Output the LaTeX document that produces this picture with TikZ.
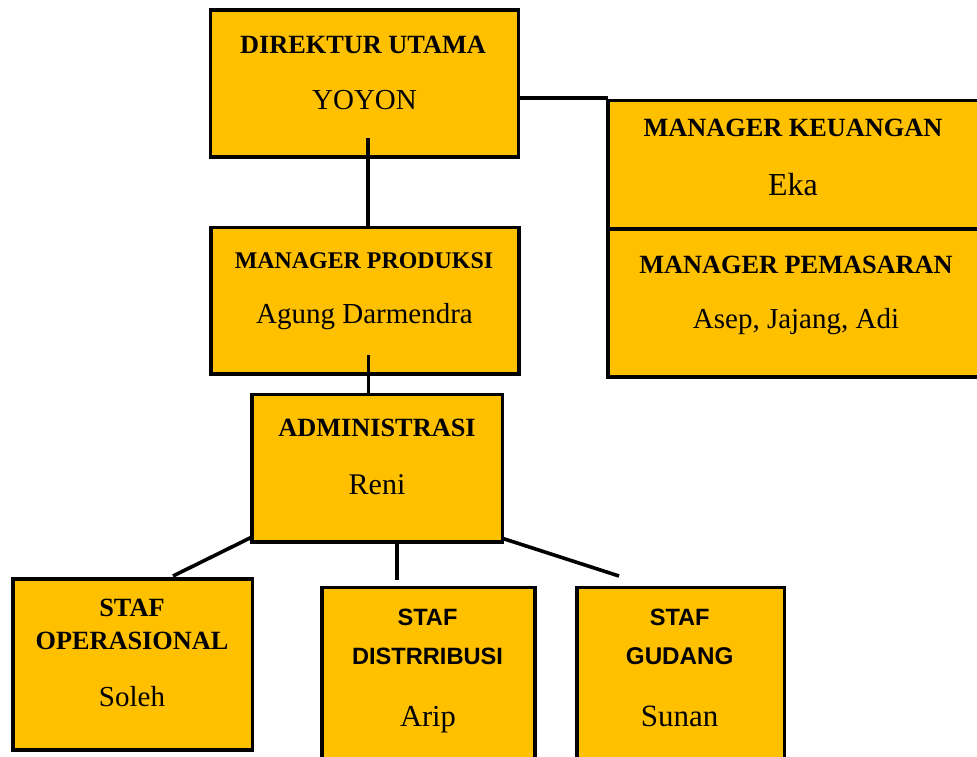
\documentclass[tikz,border=0pt]{standalone}
\usepackage{fontspec}
\setmainfont{Liberation Serif}
\newfontfamily\arialfont{Liberation Sans}
\definecolor{boxgold}{HTML}{FFC000}
\tikzset{
  orgbox/.style={draw=black, fill=boxgold, line width=3.6pt},
  conn/.style={draw=black, line width=3.6pt},
  ttl/.style={anchor=base, inner sep=0pt, font=\fontsize{26.3}{30}\selectfont\bfseries},
  ttlsans/.style={anchor=base, inner sep=0pt, font=\fontsize{23.6}{28}\arialfont\bfseries},
  nm/.style={anchor=base, inner sep=0pt, font=\fontsize{29}{33}\selectfont},
}
\begin{document}
\begin{tikzpicture}[x=1pt, y=-1pt]
\useasboundingbox (0,0) rectangle (977,756);
\clip (0,0) rectangle (977,756);
\fill[white] (0,0) rectangle (977,756);

% boxes
\path[orgbox] (210.5,10) rectangle (518.3,157);
\node[inner sep=0pt, minimum width=307.8pt, minimum height=147pt] (dir) at (364.4,83.5) {};
\path[orgbox] (210.7,227.5) rectangle (519,374);
\node[inner sep=0pt, minimum width=308.3pt, minimum height=146.5pt] (prod) at (364.85,300.75) {};
\path[orgbox] (251.7,394.3) rectangle (502.3,541.7);
\node[inner sep=0pt, minimum width=250.6pt, minimum height=147.4pt] (adm) at (377,468) {};
\path[orgbox] (608,100.5) rectangle (981,229);
\node[inner sep=0pt, minimum width=373pt, minimum height=128.5pt] (keu) at (794.5,164.75) {};
\path[orgbox] (608,229) rectangle (981,377);
\node[inner sep=0pt, minimum width=373pt, minimum height=148pt] (pem) at (794.5,303) {};
\path[orgbox] (13,579) rectangle (252.3,750);
\node[inner sep=0pt, minimum width=239.3pt, minimum height=171pt] (op) at (132.65,664.5) {};
\path[orgbox] (322,587.3) rectangle (535,765);
\node[inner sep=0pt, minimum width=213pt, minimum height=177.7pt] (dis) at (428.5,676.15) {};
\path[orgbox] (577,587.3) rectangle (784.5,765);
\node[inner sep=0pt, minimum width=207.5pt, minimum height=177.7pt] (gud) at (680.75,676.15) {};

% texts
\node[ttl] (t1) at (363,53) {DIREKTUR UTAMA};
\node[nm]  (n1) at (364.5,109.5) {YOYON};
\node[ttl, font=\fontsize{23.9}{28}\selectfont\bfseries] (t2) at (364,268.7) {MANAGER PRODUKSI};
\node[nm]  (n2) at (364.5,323.5) {Agung Darmendra};
\node[ttl] (t3) at (377,436) {ADMINISTRASI};
\node[nm, font=\fontsize{30}{34}\selectfont]  (n3) at (377,494) {Reni};
\node[ttl] (t4) at (793,136) {MANAGER KEUANGAN};
\node[nm, font=\fontsize{32}{36}\selectfont]  (n4) at (793,195) {Eka};
\node[ttl] (t5) at (796,273) {MANAGER PEMASARAN};
\node[nm]  (n5) at (796,328.5) {Asep, Jajang, Adi};
\node[ttl] (t6a) at (132,616.7) {STAF};
\node[ttl] (t6b) at (132,649) {OPERASIONAL};
\node[nm]  (n6) at (132,706.7) {Soleh};
\node[ttlsans] (t7a) at (427.5,625) {STAF};
\node[ttlsans] (t7b) at (427.5,664) {DISTRRIBUSI};
\node[nm, font=\fontsize{30.5}{34}\selectfont]  (n7) at (428,726) {Arip};
\node[ttlsans] (t8a) at (679.7,625) {STAF};
\node[ttlsans, font=\fontsize{24.2}{28}\arialfont\bfseries] (t8b) at (679.7,664) {GUDANG};
\node[nm, font=\fontsize{31}{35}\selectfont]  (n8) at (679.7,726.5) {Sunan};

% connectors
\coordinate (c1) at (368,138);
\draw[conn] (c1) -- (c1 |- prod.north);
\coordinate (c2) at (368.3,355);
\draw[conn] (c2) -- (c2 |- adm.north);
\coordinate (c3) at (518.3,98);
\draw[conn] (c3) -- (c3 -| keu.west);
\coordinate (c4a) at (252,537);
\coordinate (c4b) at (173,576);
\draw[conn] (c4a) -- (c4b);
\coordinate (c5a) at (397,541.7);
\coordinate (c5b) at (397,580);
\draw[conn] (c5a) -- (c5b);
\coordinate (c6a) at (503,538.5);
\coordinate (c6b) at (619,576);
\draw[conn] (c6a) -- (c6b);
\end{tikzpicture}
\end{document}
